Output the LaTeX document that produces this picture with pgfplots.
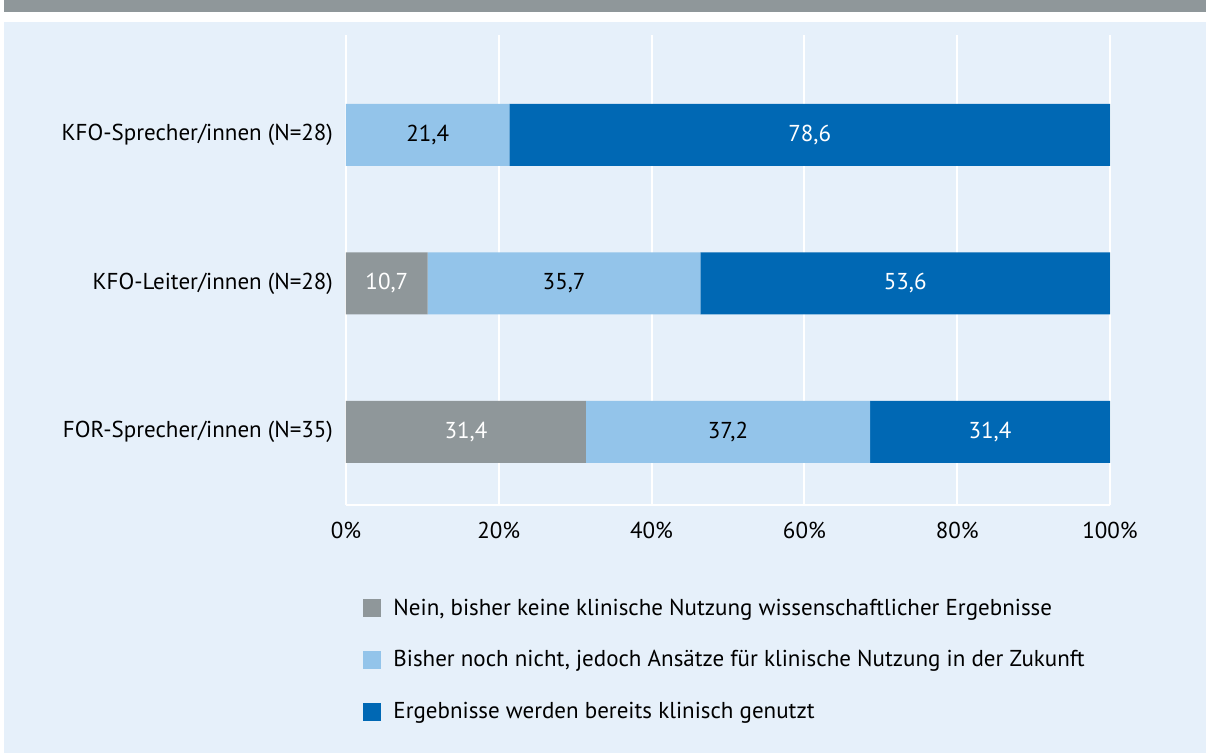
\documentclass[border=0pt]{standalone}
\usepackage{fontspec}
\setmainfont{PT Sans}
\usepackage{pgfplots}
\pgfplotsset{compat=1.18}

\definecolor{cgray}{HTML}{8F979A}
\definecolor{clight}{HTML}{93C4EA}
\definecolor{cdark}{HTML}{0068B4}
\definecolor{cpanel}{HTML}{E6F0FA}

\pgfplotsset{
    squarelegend/.style={
        legend image code/.code={\fill[##1] (0pt,-4.5pt) rectangle (9pt,4.5pt);}
    },
    frame/.style={
        at={(173pt,124pt)}, anchor=south west,
        scale only axis,
        width=382pt, height=235pt,
        xmin=0, xmax=100,
        ymin=0.508, ymax=3.673,
    }
}
\newcommand{\lbl}{\fontsize{11.5}{13.5}\selectfont}

\begin{document}
\begin{tikzpicture}
\useasboundingbox (0pt,0pt) rectangle (603pt,376.5pt);
\fill[white] (0pt,0pt) rectangle (603pt,376.5pt);
% top band and panel
\fill[cgray] (2pt,370.5pt) rectangle (603pt,376.5pt);
\fill[cpanel] (2pt,0pt) rectangle (603pt,365.5pt);

\begin{axis}[
    frame,
    xbar stacked,
    bar width=31pt,
    axis lines=left,
    axis line style={white, line width=1pt, -},
    xmajorgrids,
    grid style={white, line width=1pt},
    major tick length=0pt,
    xtick={0,20,40,60,80,100},
    xticklabels={0\%,20\%,40\%,60\%,80\%,100\%},
    ytick={1,2,3},
    yticklabels={FOR-Sprecher/innen (N=35),KFO-Leiter/innen (N=28),KFO-Sprecher/innen (N=28)},
    ticklabel style={font=\lbl, text=black},
    yticklabel style={xshift=-3pt},
    xticklabel style={yshift=-5pt},
    legend style={at={(0.0223,-0.19)}, anchor=north west, draw=none, fill=none,
        inner sep=0pt, font=\lbl, row sep=12.2pt,
        /tikz/every odd column/.append style={column sep=4pt}},
    legend cell align=left,
    squarelegend,
    clip=false
]
\addplot[fill=cgray, draw=none] coordinates {(31.4,1) (10.7,2) (0,3)};
\addplot[fill=clight, draw=none] coordinates {(37.2,1) (35.7,2) (21.4,3)};
\addplot[fill=cdark, draw=none] coordinates {(31.4,1) (53.6,2) (78.6,3)};
\legend{{Nein, bisher keine klinische Nutzung wissenschaftlicher Ergebnisse},
        {Bisher noch nicht, jedoch Ansätze für klinische Nutzung in der Zukunft},
        {Ergebnisse werden bereits klinisch genutzt}}
\end{axis}

% segment value labels, centred in each segment
\begin{axis}[frame, hide axis, clip=false]
\addplot[only marks, mark=none, nodes near coords, point meta=explicit symbolic,
    nodes near coords align={center},
    every node near coord/.append style={font=\lbl, text=white, inner sep=0pt}]
    table[meta=lab] {
x     y  lab
15.7  1  31,4
84.3  1  31,4
5.35  2  10,7
73.2  2  53,6
60.7  3  78,6
};
\addplot[only marks, mark=none, nodes near coords, point meta=explicit symbolic,
    nodes near coords align={center},
    every node near coord/.append style={font=\lbl, text=black, inner sep=0pt}]
    table[meta=lab] {
x     y  lab
50.0  1  37,2
28.55 2  35,7
10.7  3  21,4
};
\end{axis}
\end{tikzpicture}
\end{document}
